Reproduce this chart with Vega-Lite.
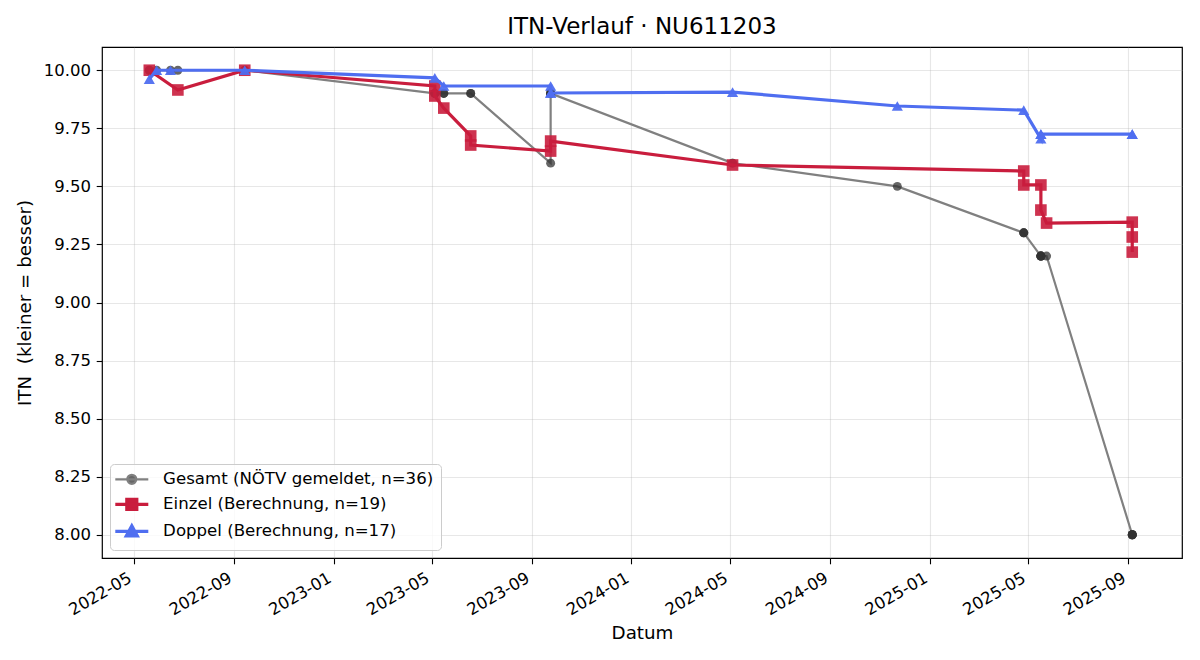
{
  "$schema": "https://vega.github.io/schema/vega-lite/v6.json",
  "autosize": {"type": "none"},
  "width": 1080,
  "height": 511,
  "padding": {"left": 102, "top": 47, "right": 18, "bottom": 102},
  "background": "white",
  "title": {
    "text": "ITN-Verlauf · NU611203",
    "font": "DejaVu Sans",
    "fontSize": 23,
    "fontWeight": "normal",
    "color": "black",
    "anchor": "middle",
    "offset": 8
  },
  "config": {
    "view": {"stroke": "black", "strokeWidth": 1.2},
    "axis": {
      "labelFont": "DejaVu Sans",
      "labelFontSize": 16.5,
      "labelColor": "black",
      "titleFont": "DejaVu Sans",
      "titleFontSize": 18.3,
      "titleFontWeight": "normal",
      "titleColor": "black",
      "domain": false,
      "ticks": true,
      "tickColor": "black",
      "tickSize": 5.8,
      "tickWidth": 1.1,
      "labelPadding": 5.8,
      "grid": true,
      "gridColor": "#b0b0b0",
      "gridOpacity": 0.3,
      "gridWidth": 1.1
    }
  },
  "data": {
    "values": [
      {"s": "Gesamt", "i": 1, "d": "2022-05-20", "v": 10.0},
      {"s": "Gesamt", "i": 2, "d": "2022-05-20", "v": 10.0},
      {"s": "Gesamt", "i": 3, "d": "2022-05-29", "v": 10.0},
      {"s": "Gesamt", "i": 4, "d": "2022-06-15", "v": 10.0},
      {"s": "Gesamt", "i": 5, "d": "2022-06-24", "v": 10.0},
      {"s": "Gesamt", "i": 6, "d": "2022-09-14", "v": 10.0},
      {"s": "Gesamt", "i": 7, "d": "2022-09-14", "v": 10.0},
      {"s": "Gesamt", "i": 8, "d": "2023-05-05", "v": 9.9},
      {"s": "Gesamt", "i": 9, "d": "2023-05-05", "v": 9.9},
      {"s": "Gesamt", "i": 10, "d": "2023-05-05", "v": 9.9},
      {"s": "Gesamt", "i": 11, "d": "2023-05-16", "v": 9.9},
      {"s": "Gesamt", "i": 12, "d": "2023-05-16", "v": 9.9},
      {"s": "Gesamt", "i": 13, "d": "2023-06-18", "v": 9.9},
      {"s": "Gesamt", "i": 14, "d": "2023-06-18", "v": 9.9},
      {"s": "Gesamt", "i": 15, "d": "2023-09-24", "v": 9.6},
      {"s": "Gesamt", "i": 16, "d": "2023-09-24", "v": 9.9},
      {"s": "Gesamt", "i": 17, "d": "2023-09-24", "v": 9.9},
      {"s": "Gesamt", "i": 18, "d": "2023-09-24", "v": 9.9},
      {"s": "Gesamt", "i": 19, "d": "2023-09-24", "v": 9.9},
      {"s": "Gesamt", "i": 20, "d": "2024-05-04", "v": 9.6},
      {"s": "Gesamt", "i": 21, "d": "2024-05-04", "v": 9.6},
      {"s": "Gesamt", "i": 22, "d": "2024-11-22", "v": 9.5},
      {"s": "Gesamt", "i": 23, "d": "2025-04-26", "v": 9.3},
      {"s": "Gesamt", "i": 24, "d": "2025-04-26", "v": 9.3},
      {"s": "Gesamt", "i": 25, "d": "2025-04-26", "v": 9.3},
      {"s": "Gesamt", "i": 26, "d": "2025-05-17", "v": 9.2},
      {"s": "Gesamt", "i": 27, "d": "2025-05-17", "v": 9.2},
      {"s": "Gesamt", "i": 28, "d": "2025-05-17", "v": 9.2},
      {"s": "Gesamt", "i": 29, "d": "2025-05-17", "v": 9.2},
      {"s": "Gesamt", "i": 30, "d": "2025-05-17", "v": 9.2},
      {"s": "Gesamt", "i": 31, "d": "2025-05-24", "v": 9.2},
      {"s": "Gesamt", "i": 32, "d": "2025-09-06", "v": 8.0},
      {"s": "Gesamt", "i": 33, "d": "2025-09-06", "v": 8.0},
      {"s": "Gesamt", "i": 34, "d": "2025-09-06", "v": 8.0},
      {"s": "Gesamt", "i": 35, "d": "2025-09-06", "v": 8.0},
      {"s": "Gesamt", "i": 36, "d": "2025-09-06", "v": 8.0},

      {"s": "Einzel", "i": 1, "d": "2022-05-20", "v": 10.0},
      {"s": "Einzel", "i": 2, "d": "2022-06-24", "v": 9.915},
      {"s": "Einzel", "i": 3, "d": "2022-09-14", "v": 10.0},
      {"s": "Einzel", "i": 4, "d": "2023-05-05", "v": 9.932},
      {"s": "Einzel", "i": 5, "d": "2023-05-05", "v": 9.889},
      {"s": "Einzel", "i": 6, "d": "2023-05-16", "v": 9.837},
      {"s": "Einzel", "i": 7, "d": "2023-06-18", "v": 9.717},
      {"s": "Einzel", "i": 8, "d": "2023-06-18", "v": 9.678},
      {"s": "Einzel", "i": 9, "d": "2023-09-24", "v": 9.652},
      {"s": "Einzel", "i": 10, "d": "2023-09-24", "v": 9.695},
      {"s": "Einzel", "i": 11, "d": "2024-05-04", "v": 9.592},
      {"s": "Einzel", "i": 12, "d": "2025-04-26", "v": 9.566},
      {"s": "Einzel", "i": 13, "d": "2025-04-26", "v": 9.506},
      {"s": "Einzel", "i": 14, "d": "2025-05-17", "v": 9.506},
      {"s": "Einzel", "i": 15, "d": "2025-05-17", "v": 9.398},
      {"s": "Einzel", "i": 16, "d": "2025-05-24", "v": 9.342},
      {"s": "Einzel", "i": 17, "d": "2025-09-06", "v": 9.346},
      {"s": "Einzel", "i": 18, "d": "2025-09-06", "v": 9.282},
      {"s": "Einzel", "i": 19, "d": "2025-09-06", "v": 9.217},

      {"s": "Doppel", "i": 1, "d": "2022-05-20", "v": 9.962},
      {"s": "Doppel", "i": 2, "d": "2022-05-29", "v": 10.0},
      {"s": "Doppel", "i": 3, "d": "2022-06-15", "v": 10.0},
      {"s": "Doppel", "i": 4, "d": "2022-09-14", "v": 10.0},
      {"s": "Doppel", "i": 5, "d": "2023-05-05", "v": 9.967},
      {"s": "Doppel", "i": 6, "d": "2023-05-16", "v": 9.932},
      {"s": "Doppel", "i": 7, "d": "2023-09-24", "v": 9.932},
      {"s": "Doppel", "i": 8, "d": "2023-09-24", "v": 9.902},
      {"s": "Doppel", "i": 9, "d": "2023-09-24", "v": 9.902},
      {"s": "Doppel", "i": 10, "d": "2024-05-04", "v": 9.906},
      {"s": "Doppel", "i": 11, "d": "2024-11-22", "v": 9.846},
      {"s": "Doppel", "i": 12, "d": "2025-04-26", "v": 9.828},
      {"s": "Doppel", "i": 13, "d": "2025-05-17", "v": 9.705},
      {"s": "Doppel", "i": 14, "d": "2025-05-17", "v": 9.725},
      {"s": "Doppel", "i": 15, "d": "2025-05-17", "v": 9.725},
      {"s": "Doppel", "i": 16, "d": "2025-09-06", "v": 9.725},
      {"s": "Doppel", "i": 17, "d": "2025-09-06", "v": 9.725}
    ]
  },
  "encoding": {
    "x": {
      "field": "d",
      "type": "temporal",
      "scale": {
        "type": "utc",
        "domain": [
          {"year": 2022, "month": 3, "date": 23, "utc": true},
          {"year": 2025, "month": 11, "date": 6, "utc": true}
        ]
      },
      "axis": {
        "title": "Datum",
        "titlePadding": 6,
        "labelExpr": "utcFormat(datum.value, '%Y-%m')",
        "labelAngle": -30,
        "labelAlign": "right",
        "labelBaseline": "top",
        "labelOffset": -8,
        "values": [
          {"year": 2022, "month": 5, "date": 1, "utc": true},
          {"year": 2022, "month": 9, "date": 1, "utc": true},
          {"year": 2023, "month": 1, "date": 1, "utc": true},
          {"year": 2023, "month": 5, "date": 1, "utc": true},
          {"year": 2023, "month": 9, "date": 1, "utc": true},
          {"year": 2024, "month": 1, "date": 1, "utc": true},
          {"year": 2024, "month": 5, "date": 1, "utc": true},
          {"year": 2024, "month": 9, "date": 1, "utc": true},
          {"year": 2025, "month": 1, "date": 1, "utc": true},
          {"year": 2025, "month": 5, "date": 1, "utc": true},
          {"year": 2025, "month": 9, "date": 1, "utc": true}
        ]
      }
    },
    "y": {
      "field": "v",
      "type": "quantitative",
      "scale": {"domain": [7.9, 10.1], "nice": false, "zero": false},
      "axis": {
        "title": "ITN\u00a0\u00a0(kleiner = besser)",
        "titlePadding": 9,
        "format": ".2f",
        "values": [8, 8.25, 8.5, 8.75, 9, 9.25, 9.5, 9.75, 10]
      }
    },
    "color": {
      "field": "s",
      "type": "nominal",
      "scale": {
        "domain": ["Gesamt", "Einzel", "Doppel"],
        "range": ["#808080", "#c91d3d", "#4f6ef0"]
      },
      "legend": {
        "title": null,
        "orient": "bottom-left",
        "offset": 8,
        "padding": 7,
        "fillColor": "rgba(255,255,255,0.8)",
        "strokeColor": "#cccccc",
        "cornerRadius": 4,
        "labelFont": "DejaVu Sans",
        "labelFontSize": 16.6,
        "labelColor": "black",
        "labelLimit": 500,
        "labelOffset": 23,
        "rowPadding": 3,
        "symbolSize": 400,
        "symbolOffset": 6.5,
        "symbolStrokeWidth": 3,
        "labelExpr": "datum.value == 'Gesamt' ? 'Gesamt (NÖTV gemeldet, n=36)' : datum.value == 'Einzel' ? 'Einzel (Berechnung, n=19)' : 'Doppel (Berechnung, n=17)'",
        "encode": {
          "symbols": {
            "update": {
              "shape": {"signal": "datum.value == 'Gesamt' ? 'M-1.65,0H1.65M-0.45,0A0.45,0.45 0 1,0 0.45,0A0.45,0.45 0 1,0 -0.45,0Z' : datum.value == 'Einzel' ? 'M-1.65,0H1.65M-0.5,-0.5H0.5V0.5H-0.5Z' : 'M-1.65,0H1.65M0,-0.55L0.55,0.45H-0.55Z'"},
              "fill": {"signal": "datum.value == 'Gesamt' ? '#666666' : datum.value == 'Einzel' ? '#c91d3d' : '#4f6ef0'"},
              "stroke": {"signal": "datum.value == 'Gesamt' ? '#808080' : datum.value == 'Einzel' ? '#c91d3d' : '#4f6ef0'"},
              "strokeWidth": {"signal": "datum.value == 'Gesamt' ? 2.2 : 3.2"},
              "opacity": {"value": 1}
            }
          }
        }
      }
    }
  },
  "layer": [
    {
      "transform": [{"filter": "datum.s == 'Gesamt'"}],
      "mark": {"type": "line", "strokeWidth": 2.2},
      "encoding": {"order": {"field": "i", "type": "quantitative"}}
    },
    {
      "transform": [{"filter": "datum.s == 'Gesamt'"}],
      "mark": {"type": "point", "shape": "circle", "filled": true, "size": 80, "opacity": 0.75},
      "encoding": {"color": {"value": "#333333"}}
    },
    {
      "transform": [{"filter": "datum.s == 'Einzel'"}],
      "mark": {"type": "line", "strokeWidth": 3.2},
      "encoding": {"order": {"field": "i", "type": "quantitative"}}
    },
    {
      "transform": [{"filter": "datum.s == 'Einzel'"}],
      "mark": {"type": "point", "shape": "square", "filled": true, "size": 135, "opacity": 0.9},
      "encoding": {"color": {"value": "#c91d3d"}}
    },
    {
      "transform": [{"filter": "datum.s == 'Doppel'"}],
      "mark": {"type": "line", "strokeWidth": 3.2},
      "encoding": {"order": {"field": "i", "type": "quantitative"}}
    },
    {
      "transform": [{"filter": "datum.s == 'Doppel'"}],
      "mark": {"type": "point", "shape": "triangle-up", "filled": true, "size": 125, "opacity": 0.95},
      "encoding": {"color": {"value": "#4f6ef0"}}
    }
  ]
}
